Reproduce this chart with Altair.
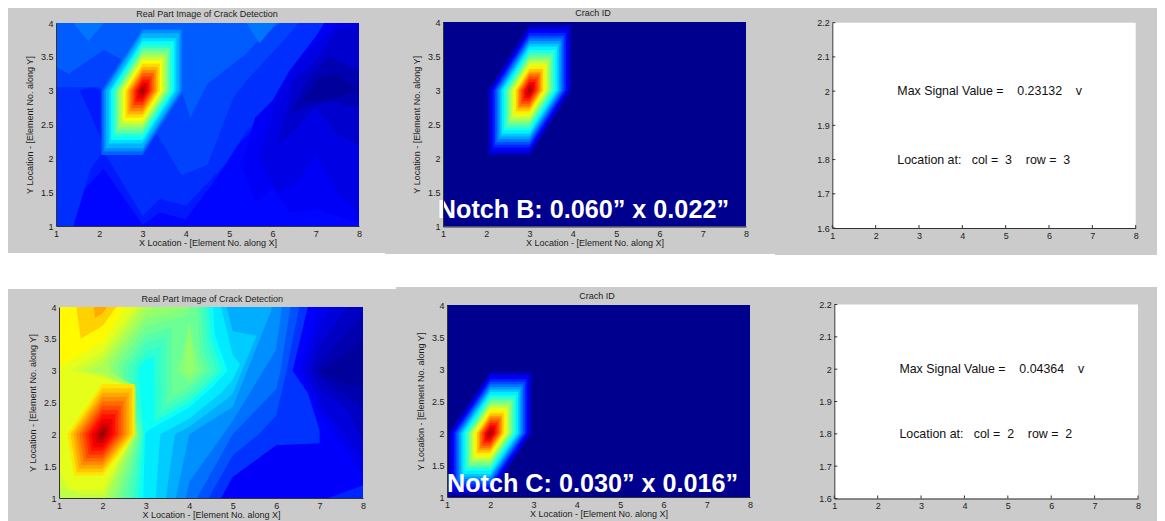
import altair as alt
import pandas as pd

FONT = "Liberation Sans"
GRAY = "#cbcbcb"
INK = "#1c1c1c"
JET_STOPS = [0, 0.125, 0.375, 0.625, 0.875, 1]
JET_COLORS = ["#00008f", "#0000ff", "#00ffff", "#ffff00", "#ff0000", "#800000"]

X_TICKS = [1, 2, 3, 4, 5, 6, 7, 8]
Y_TICKS_MAP = [1, 1.5, 2, 2.5, 3, 3.5, 4]
Y_TICKS_TEXT = [1.6, 1.7, 1.8, 1.9, 2.0, 2.1, 2.2]

# Hot-spot contour levels: level value, reach from peak
SPOT1_V = [.22, .26, .30, .34, .38, .42, .46, .50, .54, .58, .62, .66, .70, .74, .78, .82, .86, .90, .94, .98]
SPOT1_R = [.95, .90, .85, .78, .73, .68, .63, .585, .54, .49, .445, .40, .35, .305, .26, .21, .165, .115, .07, .025]
SPOT2_V = [.03, .06, .09, .12, .16, .20, .24, .28, .32, .36, .40, .44, .48, .52, .56, .60, .64, .68, .72, .76, .80, .84, .88, .92, .96, .99]
SPOT2_R = [.97, .94, .91, .88, .84, .80, .76, .72, .68, .64, .59, .55, .51, .47, .43, .39, .35, .31, .27, .24, .20, .16, .12, .08, .04, .015]
SPOT4_V = [.65, .68, .71, .74, .77, .80, .83, .86, .89, .92, .95, .98]
SPOT4_F = [.93, .85, .77, .69, .61, .53, .45, .37, .29, .20, .12, .05]

# Contour regions: (level, x, lower y, upper y)
P1_BANDS = [
    (.13, [1, 8], [1, 1], [4, 4]),
    (.15, [1, 1.3, 1.6, 2.1, 3, 3.4, 4, 4.7, 5.2, 6, 6.8, 7.4],
     [1, 1, 1.5, 1.85, 1.02, 1.2, 1.1, 1.7, 2.2, 2.7, 3.2, 4], [4, 4, 4, 4, 4, 4, 4, 4, 4, 4, 4, 4]),
    (.17, [1, 1.4, 1.8, 2.1, 3.0, 3.4, 4.0, 4.9, 5.4, 6.2, 7.0, 7.6],
     [1, 1, 1.85, 2.1, 1.15, 1.4, 1.3, 1.9, 2.4, 2.9, 3.4, 4], [4, 4, 4, 4, 4, 4, 4, 4, 4, 4, 4, 4]),
    (.15, [1.55, 1.8, 2.1], [3, 2.65, 2.2], [3, 3.05, 3.0]),
    (.19, [1, 2, 3.2, 3.9, 4.5, 5.1, 5.4, 6.2, 6.6],
     [3.05, 3.05, 2.5, 1.75, 1.9, 2.9, 3.15, 3.7, 4], [4, 4, 4, 4, 4, 4, 4, 4, 4]),
    (.215, [1, 1.3, 2.1, 3.9, 4.1, 4.5, 4.9, 5.1, 5.4, 5.9, 6.2],
     [3.35, 3.25, 3.6, 3.0, 2.6, 3.1, 3.3, 3.4, 3.55, 3.9, 4], [4, 4, 4, 4, 4, 4, 4, 4, 4, 4, 4]),
    (.24, [1.4, 1.75, 2.1], [4, 3.73, 4], [4, 4, 4]),
    (.24, [5.4, 5.7, 6.1], [4, 3.7, 4], [4, 4, 4]),
    (.115, [5.3, 5.6, 6, 6.4, 7, 7.2, 8], [1.9, 1.35, 1.55, 1.2, 1.25, 1.2, 1.05], [1.9, 2.6, 2.85, 3.3, 3.8, 4, 4]),
    (.095, [5.7, 6.1, 6.5, 7, 7.5, 8], [2, 1.5, 1.6, 2.05, 1.5, 1.2], [2, 2.9, 3.35, 3.7, 4, 4]),
    (.07, [6.1, 6.5, 7, 7.5, 8], [2.2, 2.4, 2.75, 2.35, 2.2], [2.2, 3.15, 3.45, 3.9, 3.95]),
    (.04, [6.4, 6.8, 7.3, 8], [2.65, 2.75, 2.85, 2.75], [2.65, 3.15, 3.5, 3.3]),
    (.015, [6.7, 7.1, 7.5, 8], [2.85, 2.85, 2.9, 3], [2.85, 3.2, 3.25, 3]),
    (.13, [6.4, 7, 7.3], [1, 1, 1], [1, 1.27, 1]),
]

P4_BANDS = [
    (.12, [1, 8], [1, 1], [4, 4]),
    (.175, [1, 4.73, 5, 6, 7], [1, 1, 1.33, 1.83, 1.86], [4, 4, 4, 4, 4]),
    (.205, [1, 4.45, 5, 5.6, 6, 6.24, 6.53], [1, 1, 1.67, 2, 2.29, 3, 4], [4, 4, 4, 4, 4, 4, 4]),
    (.235, [1, 4.18, 5, 6, 6.1, 6.33], [1, 1, 2, 2.71, 3, 4], [4, 4, 4, 4, 4, 4]),
    (.265, [1, 3.92, 4, 5, 6, 6.13], [1, 1, 1.25, 2.21, 3.33, 4], [4, 4, 4, 4, 4, 4]),
    (.295, [1, 3.69, 4, 5, 5.89], [1, 1, 2, 2.43, 3.95], [4, 4, 4, 4, 4]),
    (.325, [1, 3.46, 3.67, 4, 4.86, 5, 5.55], [1, 1, 2, 2.12, 2.55, 2.64, 3.55], [4, 4, 4, 4, 4, 3.62, 3.55]),
    (.355, [1, 3.23, 3.33, 4, 4.73, 5, 5.17], [1, 1, 2, 2.25, 2.65, 2.86, 3.1], [4, 4, 4, 4, 4, 3.25, 3.1]),
    (.385, [1, 2.94, 2.98, 3.07, 4, 4.55, 4.58, 4.88], [1, 1, 2, 2.07, 2.42, 2.75, 2.78, 3], [4, 4, 4, 4, 4, 4, 3.58, 3]),
    (.42, [1, 2.8, 2.83, 2.95], [1, 1, 1, 2], [4, 4, 2.9, 2]),
    (.42, [2.8, 3, 3.19, 3.2, 4, 4.45, 4.5, 4.75], [3, 3.18, 3.22, 2.2, 2.5, 2.78, 2.82, 3], [4, 4, 4, 4, 4, 4, 3.5, 3]),
    (.44, [1, 2.67, 2.72, 2.92], [1, 1, 1, 2], [4, 4, 2.8, 2]),
    (.44, [2.67, 3, 3.34, 3.35, 4, 4.36, 4.42, 4.62], [3, 3.31, 3.37, 2.35, 2.58, 2.8, 2.85, 3], [4, 4, 4, 4, 4, 4, 3.42, 3]),
    (.46, [1, 2.53, 2.61, 2.89], [1, 1, 1, 2], [4, 4, 2.8, 2]),
    (.46, [2.53, 3, 3.46, 3.47, 4, 4.27, 4.33, 4.5], [3, 3.44, 3.53, 2.47, 2.66, 2.85, 2.9, 3], [4, 4, 4, 4, 4, 4, 3.33, 3]),
    (.48, [1, 2.4, 2.5, 2.86], [1, 1, 1, 2], [4, 4, 2.78, 2]),
    (.48, [2.4, 3, 3.59, 3.6, 4, 4.18, 4.25, 4.38], [3, 3.56, 3.68, 2.6, 2.75, 2.87, 2.92, 3], [4, 4, 4, 4, 4, 4, 3.25, 3]),
    (.50, [1, 2.27, 2.39, 2.82], [1, 1, 1, 2], [4, 4, 2.85, 2]),
    (.50, [2.27, 3, 3.85, 4], [3, 3.69, 3.85, 3.9], [4, 4, 4, 4]),
    (.50, [3.73, 4, 4.25], [3, 2.83, 3], [3, 3.7, 3]),
    (.52, [1, 2.13, 2.28, 2.79], [1, 1, 1, 2], [4, 4, 2.85, 2]),
    (.52, [2.13, 3, 4], [3, 3.81, 4], [4, 4, 4]),
    (.52, [3.87, 4, 4.12], [3, 2.92, 3], [3, 3.8, 3]),
    (.54, [1, 2, 2.17, 2.76], [1, 1, 1, 2], [4, 4, 2.98, 2.75]),
    (.54, [2, 3, 3.2], [3.0, 3.9, 4], [4, 4, 4]),
    (.56, [1, 1.75, 1.76, 2, 2.06, 2.73], [1, 1, 1, 1, 1, 2], [4, 4, 3, 2.96, 2.94, 2.73]),
    (.56, [1.75, 2, 2.95], [3, 3.1, 4], [4, 4, 4]),
    (.58, [1, 1.5, 1.51, 2, 2.03, 2.7], [1.2, 1.05, 1.05, 1.05, 1.05, 2], [4, 4, 3, 2.92, 2.9, 2.7]),
    (.58, [1.5, 2, 2.85], [3, 3.2, 4], [4, 4, 4]),
    (.60, [1, 1.25, 1.26, 2, 2.72], [1.45, 1.12, 1.12, 1.12, 2], [4, 4, 3, 2.9, 2.72]),
    (.60, [1.25, 2, 2.75], [3, 3.3, 4], [4, 4, 4]),
    (.63, [1, 2, 2.53], [3.05, 3.45, 4], [4, 4, 4]),
    (.67, [1.4, 1.5, 2, 2.32], [4, 3.5, 3.7, 4], [4, 4, 4, 4]),
    (.71, [1.8, 1.83, 2, 2.1], [4, 3.83, 3.9, 4], [4, 4, 4, 4]),
    # darker ridge toward the right
    (.125, [6.38, 6.73, 7, 8], [3, 2.65, 2.07, 1.25], [3, 4, 4, 4]),
    (.105, [6.55, 6.97, 7, 8], [3, 2.36, 2.32, 1.35], [3, 4, 4, 4]),
    (.085, [6.67, 7, 7.25, 8], [3, 2.5, 2.27, 1.6], [3, 3.65, 4, 4]),
    (.06, [6.81, 7, 7.63, 8], [3, 2.71, 2.4, 1.9], [3, 3.4, 4, 4]),
    (.035, [6.93, 7, 8], [3, 2.9, 2.4], [3, 3.1, 3.9]),
    (.015, [7, 7.5, 8], [3, 2.8, 2.75], [3, 3.2, 3.5]),
    (.16, [7.2, 8], [1, 1], [1, 1.2]),
]
P4_HEX_X = [-.87, -.7, 0, .8]
P4_HEX_LO = [0, -.7, -.7, 0]
P4_HEX_HI = [0, .17, .85, .85]


def frame(bands):
    rows = []
    for i, (v, xs, los, his) in enumerate(bands):
        for x, lo, hi in zip(xs, los, his):
            rows.append({"band": i, "v": v, "x": x, "lo": lo, "hi": hi})
    return pd.DataFrame(rows)


def hexagons(px, py, levels, reaches):
    return [(v, [px - r, px, px + r], [py - r, py - r, py], [py, py + r, py + r])
            for v, r in zip(levels, reaches)]


def shaped(px, py, levels, factors):
    return [(v, [px + f * a for a in P4_HEX_X], [py + f * a for a in P4_HEX_LO], [py + f * a for a in P4_HEX_HI])
            for v, f in zip(levels, factors)]


def axes(dx, ticks_y, with_titles):
    ax = dict(zindex=1, tickSize=0, labelFont=FONT, labelFontSize=9, labelColor=INK, labelPadding=3,
              domainColor="#333333", domainWidth=1, grid=False, format="~g", labelFlush=False,
              labelOverlap=False, titleFont=FONT, titleFontSize=9, titleFontWeight="normal", titleColor=INK)
    xa = alt.Axis(values=X_TICKS, title="X Location - [Element No. along X]" if with_titles else None,
                  titlePadding=0, **ax)
    ya = alt.Axis(values=ticks_y, title="Y Location - [Element No. along Y]" if with_titles else None,
                  offset=-dx, titlePadding=6, **ax)
    return xa, ya


def gray(x0, x1, y0, y1):
    return alt.Chart(pd.DataFrame({"k": [0]})).mark_rect(color=GRAY).encode(
        x=alt.value(x0), x2=alt.value(x1), y=alt.value(y0), y2=alt.value(y1))


def contour_panel(bands, dx, w, h, top, bg, title, title_xy, note=None, note_xy=None):
    xa, ya = axes(dx, Y_TICKS_MAP, True)
    sx = alt.Scale(domain=[1, 8], range=[dx, dx + w], nice=False, zero=False)
    sy = alt.Scale(domain=[1, 4], range=[h, top], nice=False, zero=False)
    col = alt.Scale(domain=JET_STOPS, range=JET_COLORS, interpolate="rgb")
    area = alt.Chart(frame(bands)).mark_area(orient="vertical", interpolate="linear", clip=False).encode(
        x=alt.X("x:Q", scale=sx, axis=xa),
        y=alt.Y("lo:Q", scale=sy, axis=ya),
        y2="hi:Q",
        detail="band:O",
        color=alt.Color("v:Q", scale=col, legend=None),
    )
    layers = [gray(*bg), area]
    tx = alt.Chart(pd.DataFrame({"t": [title]})).mark_text(
        font=FONT, fontSize=9, color=INK, align="center", baseline="middle"
    ).encode(x=alt.value(title_xy[0]), y=alt.value(title_xy[1]), text="t:N")
    layers.append(tx)
    if note:
        nt = alt.Chart(pd.DataFrame({"x": [note_xy[0]], "y": [note_xy[1]], "t": [note]})).mark_text(
            font=FONT, fontSize=25.2, fontWeight="bold", color="white", align="left", baseline="alphabetic"
        ).encode(x=alt.X("x:Q", scale=sx, axis=xa), y=alt.Y("y:Q", scale=sy, axis=ya), text="t:N")
        layers.append(nt)
    return alt.layer(*layers).properties(width=307, height=h)


def text_panel(dx, w, h, top, bg, line1, line2):
    xa, ya = axes(dx, Y_TICKS_TEXT, False)
    sx = alt.Scale(domain=[1, 8], range=[dx, dx + w], nice=False, zero=False)
    sy = alt.Scale(domain=[1.6, 2.2], range=[h, top], nice=False, zero=False)
    white = alt.Chart(pd.DataFrame({"a": [1], "b": [8], "c": [1.6], "d": [2.2]})).mark_rect(color="white").encode(
        x=alt.X("a:Q", scale=sx, axis=xa), x2="b:Q", y=alt.Y("c:Q", scale=sy, axis=ya), y2="d:Q")
    xt = alt.Chart(pd.DataFrame({"x": X_TICKS})).mark_rule(color="#333333").encode(
        x=alt.X("x:Q", scale=sx, axis=xa), y=alt.value(h), y2=alt.value(h - 3))
    yt = alt.Chart(pd.DataFrame({"y": Y_TICKS_TEXT})).mark_rule(color="#333333").encode(
        y=alt.Y("y:Q", scale=sy, axis=ya), x=alt.value(dx), x2=alt.value(dx + 3))
    words = alt.Chart(pd.DataFrame({"x": [2.5, 2.5], "y": [2.0, 1.8], "t": [line1, line2]})).mark_text(
        font=FONT, fontSize=12.4, color="#111111", align="left", baseline="middle"
    ).encode(x=alt.X("x:Q", scale=sx, axis=xa), y=alt.Y("y:Q", scale=sy, axis=ya), text="t:N")
    return alt.layer(gray(*bg), white, xt, yt, words).properties(width=307, height=h)


NB = "\u00a0"
BOTTOM = 217
p1 = contour_panel(P1_BANDS + hexagons(3, 3, SPOT1_V, SPOT1_R), 0, 303, 204, 1, (-48, 330, -14, 231),
                   "Real Part Image of Crack Detection", (151, -8))
p2 = contour_panel([(0, [1, 8], [1, 1], [4, 4])] + hexagons(3, 3, SPOT2_V, SPOT2_R), 0, 303, 204.5, 0,
                   (-58, 333, -14, 232), "Crach ID", (150, -9), "Notch B: 0.060\u201d x 0.022\u201d", (0.88, 1.12))
p3 = text_panel(2.3, 303.4, 206, 0.7, (-55, 327, -14, 233),
                f"Max Signal Value ={NB*4}0.23132{NB*4}v", f"Location at:{NB*3}col ={NB*2}3{NB*4}row ={NB*2}3")
p4 = contour_panel(P4_BANDS + shaped(2, 2, SPOT4_V, SPOT4_F), 3, 304, 194, 3, (-48, 341, -15, BOTTOM),
                   "Real Part Image of Crack Detection", (156.3, -5.3))
p5 = contour_panel([(0, [1, 8], [1, 1], [4, 4])] + hexagons(2, 2, SPOT2_V, SPOT2_R), 4, 303, 193, 1,
                   (-47, 333, -17, BOTTOM), "Crach ID", (154, -8), "Notch C: 0.030\u201d x 0.016\u201d", (1.0, 1.08))
p6 = text_panel(4.3, 303.7, 194.5, 0.5, (-55, 327, -17, BOTTOM),
                f"Max Signal Value ={NB*4}0.04364{NB*4}v", f"Location at:{NB*3}col ={NB*2}2{NB*4}row ={NB*2}2")

chart = alt.concat(p1, p2, p3, p4, p5, p6, columns=3, spacing={"row": 76, "column": 80},
                   bounds="flush", align="all").resolve_scale(x="independent", y="independent", color="independent"
).configure(background="white", padding=0).configure_view(stroke=None)

chart.save("out.html", embed_options={"renderer": "svg", "actions": False})
